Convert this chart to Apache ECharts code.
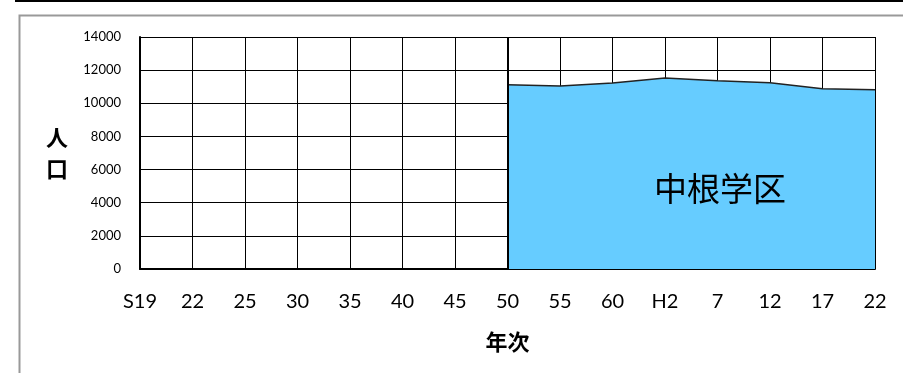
<!DOCTYPE html>
<html><head><meta charset="utf-8">
<script src="https://cdn.jsdelivr.net/npm/echarts@6/dist/echarts.min.js"></script>
<style>html,body{margin:0;padding:0;background:#fff}#c{width:903px;height:373px}</style>
</head><body><div id="c"></div>
<script>
const categories = ['S19','22','25','30','35','40','45','50','55','60','H2','7','12','17','22 '];
const population = [null,null,null,null,null,null,null,11120,11040,11220,11530,11360,11240,10880,10820];
const yTicks = {min:0, max:14000, interval:2000};
const areaLabel = '中根学区';
const xName = '年次';
const yName = '人\n口';

const chart = echarts.init(document.getElementById('c'), null, {renderer:'canvas'});
chart.setOption({
  animation:false,
  backgroundColor:'#fff',
  grid:{left:140, right:28, top:37, bottom:104, containLabel:false},
  xAxis:{
    type:'category', data:categories, boundaryGap:false,
    axisLine:{lineStyle:{color:'#000', width:2}},
    axisTick:{show:true, inside:true, length:5, alignWithLabel:true, lineStyle:{color:'#000', width:1}},
    splitLine:{show:true, lineStyle:{color:'#000', width:1}},
    axisLabel:{color:'#000', fontSize:20, fontFamily:'Lato, "Open Sans", sans-serif', margin:23,
      formatter:v=>v.trim()},
    name:xName, nameLocation:'middle', nameGap:62,
    nameTextStyle:{color:'#000', fontSize:22, fontWeight:'bold', fontFamily:'"Noto Sans CJK JP", sans-serif'}
  },
  yAxis:{
    type:'value', min:yTicks.min, max:yTicks.max, interval:yTicks.interval,
    axisLine:{show:true, lineStyle:{color:'#000', width:2}},
    axisTick:{show:false},
    splitLine:{show:true, lineStyle:{color:'#000', width:1}},
    axisLabel:{color:'#000', fontSize:13, fontFamily:'Lato, "Open Sans", sans-serif', margin:19,
      formatter:v=>String(v)},
    name:yName, nameLocation:'middle', nameRotate:0, nameGap:72,
    nameTextStyle:{color:'#000', fontSize:22, lineHeight:31, fontWeight:'bold', padding:[8,0,0,0], fontFamily:'"Noto Sans CJK JP", sans-serif'}
  },
  series:[{
    type:'line', data:population, symbol:'none', connectNulls:false,
    lineStyle:{color:'#222', width:1.5},
    areaStyle:{color:'#66CCFF', opacity:1},
    markLine:{silent:true, symbol:'none', label:{show:false},
      lineStyle:{color:'#000', width:2, type:'solid'},
      data:[{xAxis:'50'}]}
  }],
  graphic:[
    {type:'rect', shape:{x:15, y:0, width:890, height:2}, style:{fill:'#000'}, z:10},
    {type:'polyline', shape:{points:[[19.5,400],[19.5,15.5],[910,15.5]]}, style:{stroke:'#999', lineWidth:2, fill:null}, z:10},
    {type:'text', x:720, y:188, style:{text:areaLabel, fill:'#000', fontSize:33, align:'center', verticalAlign:'middle', fontFamily:'"Noto Sans CJK JP", sans-serif'}, z:20}
  ]
});
</script></body></html>
